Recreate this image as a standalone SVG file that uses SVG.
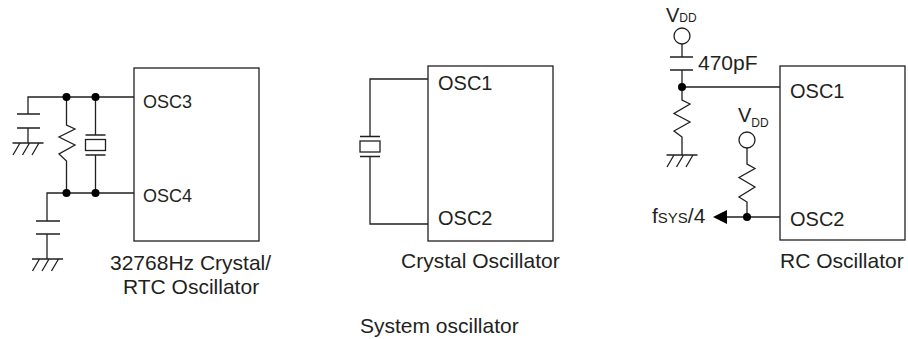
<svg xmlns="http://www.w3.org/2000/svg" width="908" height="339" viewBox="0 0 908 339">
<style>
.w{fill:none;stroke:#231f20;stroke-width:1.3}
.b{fill:#fff;stroke:#231f20;stroke-width:1.3}
.d{fill:#000}
text{font-family:"Liberation Sans",Arial,sans-serif;font-size:21px;fill:#231f20}
.m{font-size:20px}
.o{font-size:18px}
.v{font-size:20px}
.s{font-size:12px}
.f{font-size:15px}
</style>
<defs>
<g id="gnd"><path class="w" d="M-15.500 0H15.500M-8 0L-15 12M1.500 0L-5.500 12M11 0L4 12"/></g>
<g id="xtal"><path class="w" d="M-10 -10H10M-10 10H10"/><rect class="w" x="-10" y="-5.500" width="20" height="11"/></g>
</defs>
<g id="connectors">
<path class="w" d="M134 97H28V114M17 114H40M17 128H40M28 128V143"/>
<path class="w" d="M66.500 97V125L75 129L59 137L75 145L59 154L66.500 161V193"/>
<path class="w" d="M95.500 97V135M95.500 155V193"/>
<path class="w" d="M134 193H47V221M36 221H60M36 234H60M47 234V259"/>
<use href="#gnd" x="28" y="143"/><use href="#gnd" x="47.500" y="259"/>
<use href="#xtal" x="95.500" y="145"/>
<circle class="d" cx="66.500" cy="97" r="4"/><circle class="d" cx="95.500" cy="97" r="4"/>
<circle class="d" cx="66.500" cy="193" r="4"/><circle class="d" cx="95.500" cy="193" r="4"/>
<path class="w" d="M428 79H370V136.500M370 156.500V224H428"/>
<use href="#xtal" x="370" y="146.500"/>
<circle class="b" cx="682" cy="36" r="8"/>
<path class="w" d="M682 44V57M670 57H693M670 70H693M682 70V100L690 104L674 113.500L690 122L674 131L682 137V155M682 87H780"/>
<use href="#gnd" x="682" y="155"/>
<circle class="b" cx="747" cy="140" r="8"/>
<path class="w" d="M747 148V164L755 168.500L739 177.500L755 187L739 197L747 202V217M780 217H720"/>
<circle class="d" cx="682" cy="87" r="4"/><circle class="d" cx="747" cy="217" r="4"/>
<path class="d" d="M713 217L727 210V224Z"/>
</g>
<g id="rtc"><rect class="w" x="134" y="68" width="125" height="173"/>
<text class="o" x="143" y="108">OSC3</text><text class="o" x="143" y="202">OSC4</text>
<text x="110" y="270">32768Hz Crystal/</text><text x="123" y="294">RTC Oscillator</text></g>
<g id="crystal"><rect class="w" x="428" y="66" width="125" height="175"/>
<text class="m" x="438" y="90">OSC1</text><text class="m" x="438" y="225">OSC2</text>
<text x="401" y="268">Crystal Oscillator</text></g>
<g id="rc"><rect class="w" x="780" y="66" width="125" height="174"/>
<text class="m" x="790" y="98">OSC1</text><text class="m" x="790" y="226">OSC2</text>
<text x="780" y="268">RC Oscillator</text>
<text class="v" x="666" y="22">V<tspan class="s">DD</tspan></text>
<text x="698" y="70">470pF</text>
<text class="v" x="738" y="122">V<tspan class="s" dy="5">DD</tspan></text>
<text x="652" y="223">f<tspan class="f">SYS</tspan>/4</text></g>
<text id="caption" x="360" y="333">System oscillator</text>
</svg>
